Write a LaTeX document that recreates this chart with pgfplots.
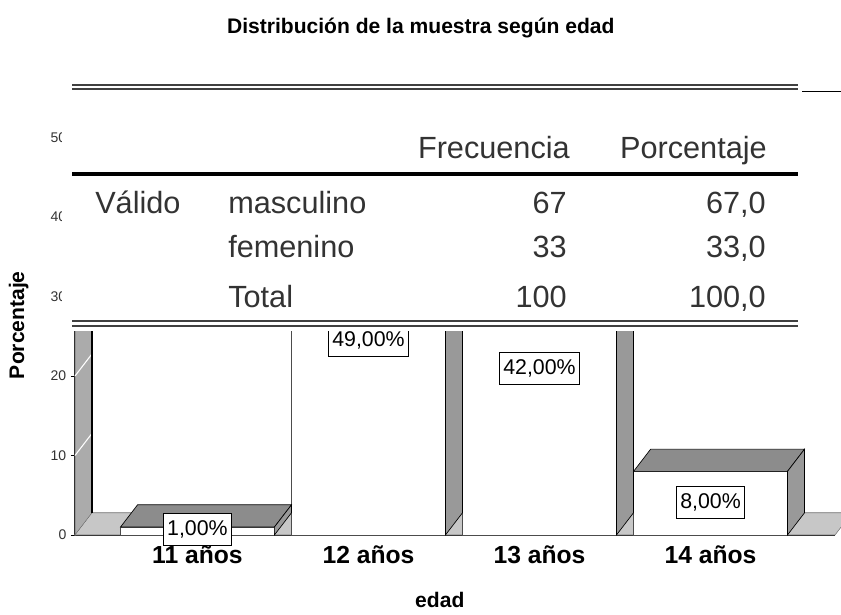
\documentclass[border=0pt]{standalone}
\usepackage{pgfplots}
\pgfplotsset{compat=1.18}
\usepackage{fontspec}
\setmainfont{Liberation Sans}
\begin{document}
\begin{tikzpicture}
\begin{axis}[
  at={(0,0)}, anchor=south west,
  scale only axis,
  width=570pt, height=316pt,
  xmin=-0.716, xmax=3.728,
  ymin=0, ymax=53,
  clip=false,
  axis lines*=left,
  axis line style={black, line width=1pt},
  xtick={0,1,2,3},
  xticklabels={11 años,12 años,13 años,14 años},
  x tick style={draw=none},
  xticklabel style={font=\fontsize{18.5}{20}\selectfont\bfseries, anchor=base, yshift=-18.5pt},
  ytick={0,10,20,30,40,50},
  y tick style={black, line width=0.6pt},
  tick align=outside,
  major tick length=3pt,
  /pgf/number format/assume math mode=true,
  yticklabel style={font=\fontsize{10.5}{12}\selectfont, text=black!80},
  every axis title shift=0pt,
  title={Distribución de la muestra según edad},
  title style={font=\fontsize{15.8}{18}\selectfont\bfseries, at={(axis description cs:0.455,1.2033)}, anchor=center},
  xlabel={edad},
  xlabel style={font=\fontsize{15.8}{18}\selectfont\bfseries, at={(axis description cs:0.48,-0.1543)}, anchor=center},
  ylabel={Porcentaje},
  ylabel style={font=\fontsize{15.8}{18}\selectfont\bfseries, at={(axis description cs:-0.074,0.498)}, anchor=center},
]
% floor
\addplot[draw=black!55, fill=black!22, line width=0.4pt] coordinates {(-0.716,0) (-0.616,2.8) (3.828,2.8) (3.728,0)} -- cycle;
\addplot[white, line width=0.7pt] coordinates {(-0.716,0) (-0.616,2.8)};
% left wall
\addplot[draw=black!60, fill=black!33, line width=0.4pt] coordinates {(-0.716,0) (-0.616,2.8) (-0.616,55.8) (-0.716,53)} -- cycle;
\addplot[white, line width=0.8pt] coordinates {(-0.716,10) (-0.616,12.8)};
\addplot[white, line width=0.8pt] coordinates {(-0.716,20) (-0.616,22.8)};
\addplot[white, line width=0.8pt] coordinates {(-0.716,30) (-0.616,32.8)};
\addplot[white, line width=0.8pt] coordinates {(-0.716,40) (-0.616,42.8)};
\addplot[white, line width=0.8pt] coordinates {(-0.716,50) (-0.616,52.8)};
\addplot[black, line width=1.2pt] coordinates {(-0.616,2.8) (-0.616,55.8)};
\addplot[black, line width=1pt] coordinates {(-0.616,55.8) (3.828,55.8)};
% bar fronts
\addplot[ybar, bar width=0.9, bar shift=0pt, fill=white, draw=black!70, line width=0.5pt] coordinates {(0,1) (1,49) (2,42) (3,8)};
% bar tops and sides
\addplot[draw=black, fill=black!45, line width=0.5pt] coordinates {(-0.45,1) (0.45,1) (0.55,3.8) (-0.35,3.8)} -- cycle;
\addplot[draw=black, fill=black!40, line width=0.5pt] coordinates {(0.45,0) (0.55,2.8) (0.55,3.8) (0.45,1)} -- cycle;
\addplot[draw=black, fill=black!45, line width=0.5pt] coordinates {(0.55,49) (1.45,49) (1.55,51.8) (0.65,51.8)} -- cycle;
\addplot[draw=black, fill=black!40, line width=0.5pt] coordinates {(1.45,0) (1.55,2.8) (1.55,51.8) (1.45,49)} -- cycle;
\addplot[draw=black, fill=black!45, line width=0.5pt] coordinates {(1.55,42) (2.45,42) (2.55,44.8) (1.65,44.8)} -- cycle;
\addplot[draw=black, fill=black!40, line width=0.5pt] coordinates {(2.45,0) (2.55,2.8) (2.55,44.8) (2.45,42)} -- cycle;
\addplot[draw=black, fill=black!45, line width=0.5pt] coordinates {(2.55,8) (3.45,8) (3.55,10.8) (2.65,10.8)} -- cycle;
\addplot[draw=black, fill=black!40, line width=0.5pt] coordinates {(3.45,0) (3.55,2.8) (3.55,10.8) (3.45,8)} -- cycle;
% value labels
\addplot[draw=none, mark=none, nodes near coords, point meta=explicit symbolic,
  every node near coord/.append style={anchor=center, draw=black, fill=white, line width=0.6pt,
    font=\fontsize{16}{18}\selectfont, inner xsep=3pt, inner ysep=5pt, text height=11.5pt, text depth=2.5pt}]
  table[meta=lab] {
x y lab
0 0.75 1,00\%
1 24.5 49,00\%
2 21 42,00\%
3 4.1 8,00\%
};
\end{axis}
\begin{scope}[x=0.75pt, y=-0.75pt, shift={(-56.25pt,401.25pt)}]
\fill[white] (62,79) rectangle (802,331);
\draw[black!75, line width=1.5pt] (72,85) -- (798,85);
\draw[black!75, line width=1.5pt] (72,89.5) -- (798,89.5);
\draw[black, line width=3pt] (72,174.5) -- (798,174.5);
\draw[black!75, line width=1.5pt] (72,321) -- (798,321);
\draw[black!75, line width=1.5pt] (72,326.5) -- (798,326.5);
\begin{scope}[every node/.style={inner sep=0pt, font=\fontsize{23}{26}\selectfont, text=black!80}]
\node[anchor=base east] at (570,159) {Frecuencia};
\node[anchor=base east] at (767,159) {Porcentaje};
\node[anchor=base west] at (95,214) {Válido};
\node[anchor=base west] at (228,214) {masculino};
\node[anchor=base east] at (567,214) {67};
\node[anchor=base east] at (766,214) {67,0};
\node[anchor=base west] at (228,258) {femenino};
\node[anchor=base east] at (567,258) {33};
\node[anchor=base east] at (766,258) {33,0};
\node[anchor=base west] at (228,308) {Total};
\node[anchor=base east] at (567,308) {100};
\node[anchor=base east] at (766,308) {100,0};
\end{scope}
\pgfresetboundingbox
\path[use as bounding box] (0,0) rectangle (841,614);
\end{scope}
\end{tikzpicture}
\end{document}
